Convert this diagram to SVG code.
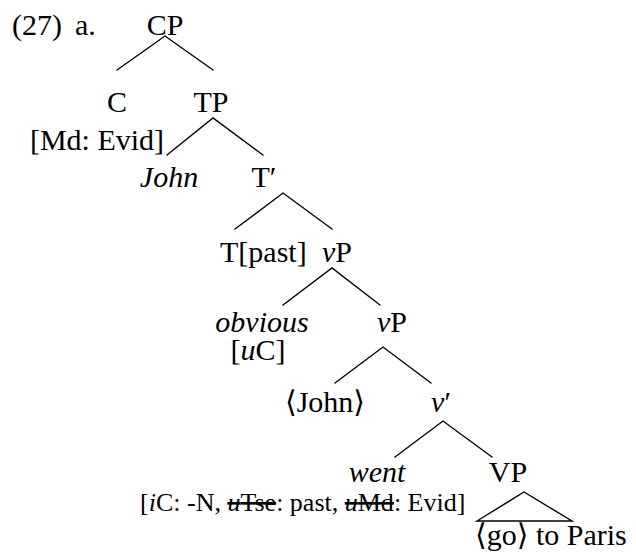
<svg xmlns="http://www.w3.org/2000/svg" width="636" height="559" viewBox="0 0 636 559">
<style>
text{font-family:"Liberation Serif","DejaVu Serif",serif;font-size:30px;fill:#000}
.m{text-anchor:middle}
.i{font-style:italic}
.s{font-size:26px}
.e{stroke:#000;stroke-width:1.4;fill:none;stroke-linecap:round}
.st{text-decoration:line-through}
</style>
<rect width="636" height="559" fill="#fff"/>
<g id="label"><text x="12" y="35">(27)</text><text x="75" y="35">a.</text></g>
<g id="CP"><text class="m" x="165" y="35">CP</text></g>
<g id="C"><text class="m" x="117" y="112">C</text><text class="m" x="97" y="150">[Md: Evid]</text></g>
<g id="TP"><text class="m" x="211" y="112">TP</text></g>
<g id="John"><text class="m i" x="169" y="187">John</text></g>
<g id="Tbar"><text class="m" x="264" y="187">T′</text></g>
<g id="Tpast"><text x="220" y="262">T[past]</text></g>
<g id="vP1"><text x="322" y="262"><tspan class="i">v</tspan>P</text></g>
<g id="obvious"><text class="m i" x="262" y="332">obvious</text><text class="m" x="258" y="360">[<tspan class="i">u</tspan>C]</text></g>
<g id="vP2"><text class="m" x="392" y="332"><tspan class="i">v</tspan>P</text></g>
<g id="JohnTrace"><text class="m" x="325" y="412">⟨John⟩</text></g>
<g id="vbar"><text class="m" x="441" y="412"><tspan class="i">v</tspan>′</text></g>
<g id="went"><text class="m i" x="377" y="482">went</text><text class="s" x="140" y="511">[<tspan class="i">i</tspan>C: -N, <tspan class="st"><tspan class="i">u</tspan>Tse</tspan>: past, <tspan class="st"><tspan class="i">u</tspan>Md</tspan>: Evid]</text></g>
<g id="VP"><text class="m" x="508" y="482">VP</text><text x="475" y="545">⟨go⟩ to Paris</text></g>
<g id="connectors">
<path class="e" d="M117,70L165,36L213,70"/>
<path class="e" d="M167,155L213,118L263,155"/>
<path class="e" d="M235,229L283,193L332,229"/>
<path class="e" d="M283,305L332,268L380,305"/>
<path class="e" d="M335,383L383,347L431,383"/>
<path class="e" d="M395,457L443,421L492,457"/>
<path class="e" d="M477,521L524,492L572,521Z"/>
</g>
</svg>
